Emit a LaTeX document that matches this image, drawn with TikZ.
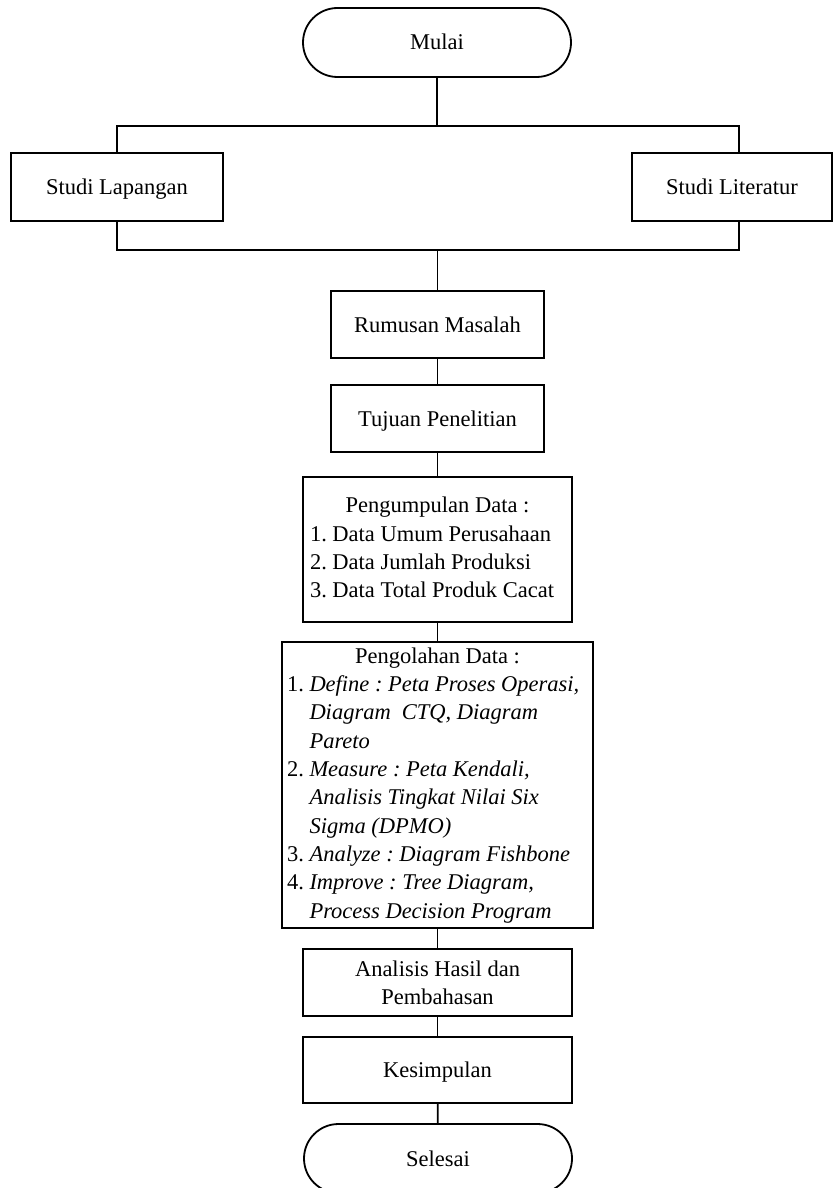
\documentclass[tikz,border=0pt]{standalone}
\usepackage{fontspec}
\setmainfont{Liberation Serif}
\usepackage{array}
\frenchspacing
% numbered list line with italic body, and its indented continuation
\newcommand\olnum[2]{\makebox[22.5pt][l]{#1}\textit{#2}}
\newcommand\olcont[1]{\hspace*{22.5pt}\textit{#1}}

\begin{document}
\begin{tikzpicture}[x=1pt,y=-1pt,
  every node/.style={font=\fontsize{22.5}{28.3}\selectfont, inner sep=0pt, outer sep=0pt},
  procbox/.style={draw, line width=1.8pt, align=center},
  oneline/.style={text height=18pt, text depth=3pt},
  terminal/.style={procbox, oneline, rounded corners=34.5pt},
  link/.style={line width=1.8pt}]

\useasboundingbox (0,0) rectangle (833,1188);
\clip (0,0) rectangle (833,1188);

% terminals and process boxes
\node[terminal, minimum width=268pt, minimum height=69pt] (start) at (437,42.5) {Mulai};
\node[procbox, oneline, minimum width=212pt, minimum height=68pt] (lap) at (117,187) {Studi Lapangan};
\node[procbox, oneline, minimum width=200pt, minimum height=68pt] (lit) at (732,187) {Studi Literatur};
\node[procbox, oneline, minimum width=213pt, minimum height=67pt] (rum) at (437.5,324.5) {Rumusan Masalah};
\node[procbox, oneline, minimum width=213pt, minimum height=67pt] (tuj) at (437.5,418.5) {Tujuan Penelitian};
\node[procbox, minimum width=269pt, minimum height=145pt] (kumpul) at (437.5,549.5)
  {\begin{tabular}{@{}p{255pt}@{}}
   \multicolumn{1}{@{}c@{}}{Pengumpulan Data :}\\
   1. Data Umum Perusahaan\\
   2. Data Jumlah Produksi\\
   3. Data Total Produk Cacat
   \end{tabular}};
\node[procbox, minimum width=311pt, minimum height=286pt] (olah) at (437.5,785)
  {\begin{tabular}{@{}p{301pt}@{}}
   \multicolumn{1}{@{}c@{}}{Pengolahan Data :}\\
   \olnum{1.}{Define : Peta Proses Operasi,}\\
   \olcont{Diagram~~CTQ, Diagram}\\
   \olcont{Pareto}\\
   \olnum{2.}{Measure : Peta Kendali,}\\
   \olcont{Analisis Tingkat Nilai Six}\\
   \olcont{Sigma (DPMO)}\\
   \olnum{3.}{Analyze : Diagram Fishbone}\\
   \olnum{4.}{Improve : Tree Diagram,}\\
   \olcont{Process Decision Program}
   \end{tabular}};
\node[procbox, minimum width=269pt, minimum height=67pt] (anal) at (437.5,982.5) {Analisis Hasil dan\\Pembahasan};
\node[procbox, oneline, minimum width=269pt, minimum height=66pt] (kes) at (437.5,1070) {Kesimpulan};
\node[terminal, minimum width=268pt, minimum height=69pt] (stop) at (438,1158.5) {Selesai};

% split and merge bars around the two studies
\coordinate (tl) at (117,126);
\coordinate (tr) at (739,126);
\coordinate (bl) at (117,250);
\coordinate (br) at (739,250);

\draw[link] (start) -- (start |- tl);
\draw[link] (tl |- lap.north) -- (tl) -- (tr) -- (tr |- lit.north);
\draw[link] (bl |- lap.south) -- (bl) -- (br) -- (br |- lit.south);
\draw[link] (rum |- bl) -- (rum);

% main chain
\draw[link] (rum) -- (tuj);
\draw[link] (tuj) -- (kumpul);
\draw[link] (kumpul) -- (olah);
\draw[link] (olah) -- (anal);
\draw[link] (anal) -- (kes);
\draw[link] (kes) -- (stop);
\end{tikzpicture}
\end{document}
